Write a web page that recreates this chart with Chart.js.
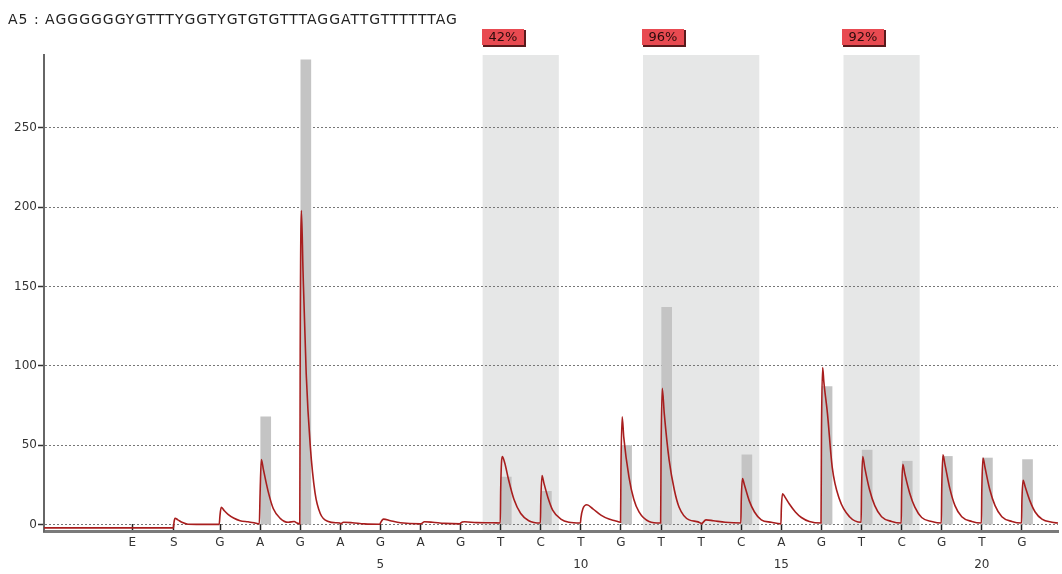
<!DOCTYPE html>
<html><head><meta charset="utf-8">
<script src="https://cdn.jsdelivr.net/npm/chart.js@4/dist/chart.umd.min.js"></script>
<style>html,body{margin:0;padding:0;background:#fff;}#wrap{width:1062px;height:574px;position:relative;}</style>
</head><body><div id="wrap"><canvas id="c"></canvas></div>
<script>
// ---------- data ----------
const sampleTitle = 'A5 : AGGGGGGYGTTTYGGTYGTGTGTTTAGGATTGTTTTTTAG';
const dispensations = ['E','S','G','A','G','A','G','A','G','T','C','T','G','T','T','C','A','G','T','C','G','T','G'];
const dispPositions = [-1.19,-0.15,1,2,3,4,5,6,7,8,9,10,11,12,13,14,15,16,17,18,19,20,21];
const cycleNumbers = [5,10,15,20];
const histogram = [0,0,0,68,293,0,0,0,0,30,21,0,50,137,0,44,0,87,47,40,43,42,41];
const yTicks = [0,50,100,150,200,250];
const cpgStart = [7.55,11.55,16.55];
const cpgEnd = [9.45,14.45,18.45];
const methylation = ['42%','96%','92%'];
const trace = [
 [-3.39,-2],[-0.16,-2],
 [-0.15,1],[-0.12,4],[-0.05,3],[0.05,1.5],[0.2,0.3],[0.5,0.2],[0.98,0.2],
 [1.0,6],[1.03,11],[1.1,9],[1.2,6.5],[1.35,4],[1.5,2.5],[1.7,1.8],[1.85,1.2],[1.98,0.5],
 [2.0,20],[2.03,41],[2.08,35],[2.2,21],[2.33,10],[2.5,4],[2.7,1.5],[2.85,2],[2.92,1],[2.99,0.5],
 [3.0,110],[3.03,198],[3.07,160],[3.15,95],[3.25,50],[3.37,20],[3.5,7],[3.7,2],[3.9,1.2],[3.99,1],
 [4.0,0.5],[4.08,1.5],[4.3,1.2],[4.6,0.5],[4.99,0.3],
 [5.0,1],[5.08,3.5],[5.25,2.5],[5.5,1.2],[5.99,0.5],
 [6.0,0.5],[6.1,1.8],[6.3,1.5],[6.6,0.8],[6.99,0.5],
 [7.0,1],[7.1,1.8],[7.4,1.3],[7.8,1.2],[7.99,1],
 [8.0,22],[8.04,43],[8.1,39],[8.2,28],[8.33,16],[8.5,7],[8.7,2.5],[8.99,1],
 [9.0,14],[9.03,31],[9.08,26],[9.18,17],[9.3,9],[9.5,3.5],[9.7,1.5],[9.99,1],
 [10.0,4],[10.05,10],[10.15,12.5],[10.3,10],[10.5,6],[10.7,3.5],[10.85,2.5],[10.99,1.5],
 [11.0,35],[11.03,68],[11.07,55],[11.2,30],[11.32,16],[11.45,8],[11.7,2],[11.99,1],
 [12.0,45],[12.03,86],[12.08,70],[12.2,41],[12.33,22],[12.45,11],[12.7,3],[12.99,1],
 [13.0,0.5],[13.12,3],[13.3,2.5],[13.6,1.5],[13.99,1],
 [14.0,15],[14.03,29],[14.08,25],[14.2,15],[14.33,8],[14.5,3],[14.75,1.5],[14.99,0.5],
 [15.0,10],[15.03,19.5],[15.1,17],[15.2,13],[15.35,8],[15.5,4.5],[15.7,2],[15.99,1],
 [16.0,55],[16.03,99],[16.06,90],[16.15,70],[16.27,36],[16.45,16],[16.7,5],[16.99,1.5],
 [17.0,22],[17.03,43],[17.08,36],[17.2,22],[17.33,12],[17.5,5],[17.75,2],[17.99,1],
 [18.0,20],[18.03,38],[18.08,32],[18.2,20],[18.33,11],[18.5,4.5],[18.75,2],[18.99,1],
 [19.0,22],[19.03,44],[19.08,38],[19.2,23],[19.33,12],[19.5,5],[19.75,2],[19.99,1],
 [20.0,22],[20.03,42],[20.08,36],[20.2,22],[20.33,12],[20.5,5],[20.75,2],[20.99,1],
 [21.0,15],[21.03,28],[21.08,24],[21.2,15],[21.33,8],[21.5,3.5],[21.75,1.5],[21.9,1]
];

// ---------- styles ----------
const barOffset = 0.14;
const FONT = "'DejaVu Sans', sans-serif";

const barData = [];
dispPositions.forEach((p,i)=>{ if (histogram[i] > 0) barData.push({x: p + barOffset, y: histogram[i]}); });
const traceData = trace.map(([x,y])=>({x, y}));

const decorPlugin = {
  id: 'decor',
  beforeDraw(chart) {
    const {ctx, chartArea, scales:{x}} = chart;
    ctx.save();
    ctx.fillStyle = '#e6e7e7';
    cpgStart.forEach((s,i)=>{
      const l = x.getPixelForValue(s), r = x.getPixelForValue(cpgEnd[i]);
      ctx.fillRect(l, chartArea.top, r - l, chartArea.bottom - chartArea.top);
    });
    ctx.restore();
  },
  afterDraw(chart) {
    const {ctx, scales:{x}} = chart;
    ctx.save();
    ctx.fillStyle = '#222';
    ctx.font = "14px " + FONT;
    ctx.letterSpacing = '1px';
    ctx.textBaseline = 'middle';
    ctx.textAlign = 'left';
    ctx.fillText(sampleTitle, 8, 20);
    ctx.letterSpacing = '0px';
    cpgStart.forEach((s,i)=>{
      const l = Math.round(x.getPixelForValue(s)) - 1;
      const t = 29, w = 42, h = 16;
      ctx.fillStyle = '#5a1a1c';
      ctx.fillRect(l + 1, t + 1, w + 1, h + 1);
      ctx.fillStyle = '#e84a51';
      ctx.fillRect(l, t, w, h);
      ctx.fillStyle = '#2a0c0c';
      ctx.font = "13px " + FONT;
      ctx.textAlign = 'center';
      ctx.fillText(methylation[i], l + w/2, t + h/2 + 1);
    });
    ctx.restore();
  }
};

new Chart(document.getElementById('c'), {
  type: 'bar',
  data: {
    datasets: [
      { type: 'line', data: traceData, borderColor: '#a81e1e', borderWidth: 1.6, pointRadius: 0,
        cubicInterpolationMode: 'monotone', fill: false, order: 0 },
      { type: 'bar', data: barData, backgroundColor: '#c4c4c4', borderWidth: 0, barThickness: 10, order: 1 }
    ]
  },
  options: {
    responsive: true, maintainAspectRatio: false, animation: false,
    layout: { padding: { top: 55, right: 4, left: 0, bottom: 0 } },
    plugins: { legend: { display: false }, tooltip: { enabled: false } },
    scales: {
      x: {
        type: 'linear', min: -3.39, max: 21.9, offset: false,
        afterBuildTicks: s => { s.ticks = dispPositions.map(v => ({value: v})); },
        afterFit: s => { s.height = 43; },
        grid: { offset: false, drawOnChartArea: false, drawTicks: true, tickLength: -7, tickColor: '#222', tickWidth: 1.5 },
        border: { display: true, color: '#7a7a7a', width: 3 },
        ticks: {
          autoSkip: false, maxRotation: 0, padding: 8,
          color: '#333', font: { family: FONT, size: 12, lineHeight: 22/12 },
          callback: (v, i) => {
            const p = dispPositions[i];
            return cycleNumbers.includes(p) ? [dispensations[i], String(p)] : [dispensations[i]];
          }
        }
      },
      y: {
        type: 'linear', min: -4, max: 296,
        afterBuildTicks: s => { s.ticks = yTicks.map(v => ({value: v})); },
        afterFit: s => { s.width = 44; },
        grid: { color: '#777', lineWidth: 1, drawTicks: true, tickLength: 6, tickColor: '#333', tickWidth: 1.5, tickBorderDash: [] },
        border: { display: true, color: '#666', width: 2, dash: [2, 2] },
        ticks: { padding: 1, color: '#333', font: { family: FONT, size: 12 } }
      }
    }
  },
  plugins: [decorPlugin]
});
</script></body></html>
